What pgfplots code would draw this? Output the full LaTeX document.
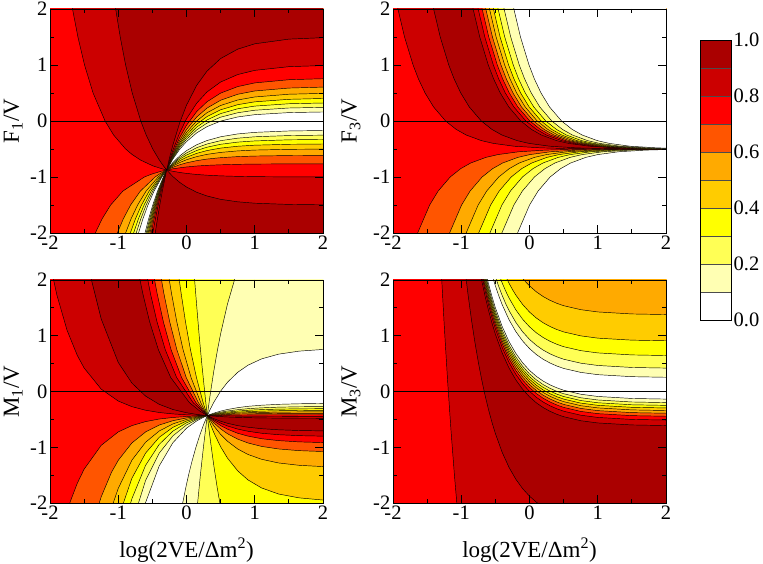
\documentclass[border=0pt]{standalone}
\usepackage{fontspec}
\setmainfont{Liberation Serif}
\usepackage{pgfplots}
\pgfplotsset{compat=1.18}
\definecolor{c0}{HTML}{FFFFFF}
\definecolor{c1}{HTML}{FFFFB3}
\definecolor{c2}{HTML}{FFFF55}
\definecolor{c3}{HTML}{FFFF00}
\definecolor{c4}{HTML}{FFCC00}
\definecolor{c5}{HTML}{FFAA00}
\definecolor{c6}{HTML}{FF5500}
\definecolor{c7}{HTML}{FF0000}
\definecolor{c8}{HTML}{CC0000}
\definecolor{c9}{HTML}{AA0000}
\newcommand\ticksize{\fontsize{20.5}{24}\selectfont}
\newcommand\labsize{\fontsize{23}{27}\selectfont}
\pgfplotsset{
  cf/.style={fill=#1, draw=black, line width=0.45pt, line join=round},
  bg/.style={fill=#1, draw=none},
  panel/.style={
    anchor=south west, scale only axis, width=273pt, height=224pt,
    xmin=-2, xmax=2, ymin=-2, ymax=2,
    xtick={-2,-1,0,1,2}, ytick={-2,-1,0,1,2},
    xticklabels={-2,-1,0,1,2}, yticklabels={-2,-1,0,1,2},
    minor xtick={-1.5,-0.5,0.5,1.5}, minor ytick={-1.5,-0.5,0.5,1.5},
    tick align=inside, major tick length=8pt, minor tick length=4pt,
    every tick/.style={black, line width=0.9pt},
    axis line style={line width=0.9pt},
    tick label style={font=\ticksize},
    xticklabel style={inner sep=2.5pt},
    yticklabel style={inner sep=2.5pt},
    axis on top, no markers, clip=true,
    every axis x label/.style={at={(axis description cs:0.5,-0.21)}, anchor=center, font=\labsize},
  },
  ylab/.style={every axis y label/.style={at={(axis description cs:#1,0.5)}, rotate=90, anchor=center, inner sep=0pt, font=\labsize}},
}
\begin{document}
\begin{tikzpicture}
\useasboundingbox (0,0) rectangle (763pt,564pt);
% ================= TOP LEFT: F1/V =================
\begin{axis}[panel, at={(50pt,331pt)}, ylab=-0.135, ylabel={F\textsubscript{1}/V}]
\addplot[bg=c0] coordinates {(-2.6,-2.6) (2.6,-2.6) (2.6,2.6) (-2.6,2.6)} -- cycle;
% 0.1
\addplot[cf=c1] coordinates {(-0.29,-0.875) (-0.361,-1) (-0.475,-1.25) (-0.565,-1.5) (-0.639,-1.75) (-0.703,-2) (-0.808,-2.5) (-2.6,-2.6) (-2.6,2.6) (2.6,2.6) (2.6,0.166) (2.5,0.165) (2,0.161) (1.5,0.150) (1,0.113) (0.75,0.072) (0.5,-0.002) (0.3,-0.101) (0.15,-0.212) (0,-0.368) (-0.1,-0.506) (-0.2,-0.680)} -- cycle;
\addplot[cf=c1] coordinates {(-0.29,-0.875) (-0.339,-1) (-0.424,-1.25) (-0.494,-1.5) (-0.555,-1.75) (-0.608,-2) (-0.698,-2.5) (2.6,-2.6) (2.6,-0.168) (2.5,-0.168) (2,-0.170) (1.5,-0.178) (1,-0.203) (0.75,-0.231) (0.5,-0.282) (0.3,-0.349) (0.15,-0.424) (0,-0.530) (-0.1,-0.624) (-0.2,-0.742)} -- cycle;
% 0.2
\addplot[cf=c2] coordinates {(-0.29,-0.875) (-0.369,-1) (-0.494,-1.25) (-0.591,-1.5) (-0.670,-1.75) (-0.737,-2) (-0.846,-2.5) (-2.6,-2.6) (-2.6,2.6) (2.6,2.6) (2.6,0.249) (2.5,0.248) (2,0.244) (1.5,0.232) (1,0.192) (0.75,0.147) (0.5,0.068) (0.3,-0.039) (0.15,-0.159) (0,-0.327) (-0.1,-0.476) (-0.2,-0.665)} -- cycle;
\addplot[cf=c2] coordinates {(-0.29,-0.875) (-0.336,-1) (-0.415,-1.25) (-0.482,-1.5) (-0.540,-1.75) (-0.591,-2) (-0.678,-2.5) (2.6,-2.6) (2.6,-0.251) (2.5,-0.251) (2,-0.253) (1.5,-0.260) (1,-0.282) (0.75,-0.307) (0.5,-0.351) (0.3,-0.411) (0.15,-0.477) (0,-0.571) (-0.1,-0.654) (-0.2,-0.758)} -- cycle;
% 0.3
\addplot[cf=c3] coordinates {(-0.29,-0.875) (-0.379,-1) (-0.517,-1.25) (-0.621,-1.5) (-0.705,-1.75) (-0.775,-2) (-0.889,-2.5) (-2.6,-2.6) (-2.6,2.6) (2.6,2.6) (2.6,0.326) (2.5,0.325) (2,0.321) (1.5,0.308) (1,0.266) (0.75,0.218) (0.5,0.132) (0.3,0.018) (0.15,-0.109) (0,-0.289) (-0.1,-0.449) (-0.2,-0.650)} -- cycle;
\addplot[cf=c3] coordinates {(-0.29,-0.875) (-0.333,-1) (-0.408,-1.25) (-0.472,-1.5) (-0.528,-1.75) (-0.577,-2) (-0.661,-2.5) (2.6,-2.6) (2.6,-0.328) (2.5,-0.328) (2,-0.330) (1.5,-0.336) (1,-0.356) (0.75,-0.377) (0.5,-0.416) (0.3,-0.468) (0.15,-0.526) (0,-0.608) (-0.1,-0.681) (-0.2,-0.773)} -- cycle;
% 0.4
\addplot[cf=c4] coordinates {(-0.29,-0.875) (-0.355,-0.95) (-0.393,-1) (-0.546,-1.25) (-0.659,-1.5) (-0.749,-1.75) (-0.823,-2) (-0.941,-2.5) (-2.6,-2.6) (-2.6,2.6) (2.6,2.6) (2.6,0.407) (2.5,0.406) (2,0.402) (1.5,0.387) (1,0.342) (0.75,0.291) (0.5,0.200) (0.3,0.078) (0.15,-0.058) (0,-0.250) (-0.1,-0.420) (-0.2,-0.635)} -- cycle;
\addplot[cf=c4] coordinates {(-0.29,-0.875) (-0.330,-1) (-0.401,-1.25) (-0.462,-1.5) (-0.516,-1.75) (-0.563,-2) (-0.645,-2.5) (2.6,-2.6) (2.6,-0.409) (2.5,-0.409) (2,-0.411) (1.5,-0.416) (1,-0.432) (0.75,-0.451) (0.5,-0.484) (0.3,-0.528) (0.15,-0.578) (0,-0.648) (-0.1,-0.710) (-0.2,-0.788)} -- cycle;
% 0.5
\addplot[cf=c5] coordinates {(-0.29,-0.875) (-0.318,-0.9) (-0.369,-0.95) (-0.415,-1) (-0.591,-1.25) (-0.716,-1.5) (-0.813,-1.75) (-0.892,-2) (-1.017,-2.5) (-2.6,-2.6) (-2.6,2.6) (2.6,2.6) (2.6,0.499) (2.5,0.498) (2,0.493) (1.5,0.478) (1,0.429) (0.75,0.375) (0.5,0.277) (0.3,0.147) (0.15,0.001) (0,-0.205) (-0.1,-0.388) (-0.2,-0.618)} -- cycle;
\addplot[cf=c5] coordinates {(-0.29,-0.875) (-0.328,-1) (-0.395,-1.25) (-0.453,-1.5) (-0.504,-1.75) (-0.550,-2) (-0.629,-2.5) (2.6,-2.6) (2.6,-0.501) (2.5,-0.501) (2,-0.502) (1.5,-0.506) (1,-0.519) (0.75,-0.534) (0.5,-0.561) (0.3,-0.596) (0.15,-0.636) (0,-0.692) (-0.1,-0.742) (-0.2,-0.805)} -- cycle;
% 0.6
\addplot[cf=c6] coordinates {(-0.29,-0.875) (-0.330,-0.9) (-0.399,-0.95) (-0.459,-1) (-0.675,-1.25) (-0.819,-1.5) (-0.927,-1.75) (-1.013,-2) (-1.147,-2.5) (-2.6,-2.6) (-2.6,2.6) (2.6,2.6) (2.6,0.611) (2.5,0.610) (2,0.605) (1.5,0.588) (1,0.536) (0.75,0.477) (0.5,0.371) (0.3,0.230) (0.15,0.072) (0,-0.151) (-0.1,-0.348) (-0.2,-0.597)} -- cycle;
\addplot[cf=c6] coordinates {(-0.29,-0.875) (-0.325,-1) (-0.388,-1.25) (-0.442,-1.5) (-0.491,-1.75) (-0.535,-2) (-0.611,-2.5) (2.6,-2.6) (2.6,-0.613) (2.5,-0.613) (2,-0.614) (1.5,-0.617) (1,-0.626) (0.75,-0.636) (0.5,-0.655) (0.3,-0.680) (0.15,-0.708) (0,-0.747) (-0.1,-0.782) (-0.2,-0.826)} -- cycle;
% 0.7
\addplot[cf=c7] coordinates {(-0.29,-0.875) (-0.378,-0.9) (-0.514,-0.95) (-0.617,-1) (-0.931,-1.25) (-1.111,-1.5) (-1.238,-1.75) (-1.336,-2) (-1.484,-2.5) (-2.6,-2.6) (-2.6,2.6) (2.6,2.6) (2.6,0.762) (2.5,0.761) (2,0.755) (1.5,0.737) (1,0.680) (0.75,0.614) (0.5,0.498) (0.3,0.343) (0.15,0.169) (0,-0.077) (-0.1,-0.294) (-0.2,-0.569)} -- cycle;
\addplot[cf=c7] coordinates {(-0.29,-0.875) (-0.322,-1) (-0.380,-1.25) (-0.430,-1.5) (-0.476,-1.75) (-0.517,-2) (-0.589,-2.5) (2.6,-2.6) (2.6,-0.764) (2.5,-0.764) (2,-0.764) (1.5,-0.766) (1,-0.769) (0.75,-0.774) (0.5,-0.782) (0.3,-0.792) (0.15,-0.804) (0,-0.821) (-0.1,-0.836) (-0.2,-0.854)} -- cycle;
% 0.8
\addplot[cf=c8] coordinates {(-0.29,-0.875) (-0.369,-0.85) (-0.494,-0.8) (-0.670,-0.7) (-0.795,-0.6) (-0.892,-0.5) (-1.068,-0.25) (-1.193,0) (-1.369,0.5) (-1.494,1) (-1.591,1.5) (-1.670,2) (-1.737,2.5) (2.6,2.6) (2.6,0.998) (2.5,0.997) (2,0.990) (1.5,0.970) (1,0.904) (0.75,0.829) (0.5,0.696) (0.3,0.518) (0.15,0.319) (0,0.038) (-0.1,-0.211) (-0.2,-0.524) (-0.25,-0.710)} -- cycle;
\addplot[cf=c8] coordinates {(-0.29,-0.875) (-0.318,-1) (-0.369,-1.25) (-0.415,-1.5) (-0.456,-1.75) (-0.494,-2) (-0.561,-2.5) (2.6,-2.6) (2.6,-1.0) (2.5,-1.0) (2,-0.999) (1.5,-0.998) (1,-0.994) (0.75,-0.989) (0.5,-0.980) (0.3,-0.968) (0.15,-0.955) (0,-0.936) (-0.1,-0.919) (-0.2,-0.898)} -- cycle;
% 0.9
\addplot[cf=c9] coordinates {(-0.29,-0.875) (-0.339,-0.8) (-0.397,-0.7) (-0.494,-0.5) (-0.591,-0.25) (-0.670,0) (-0.795,0.5) (-0.892,1) (-0.971,1.5) (-1.038,2) (-1.096,2.5) (2.6,2.6) (2.6,1.497) (2.5,1.496) (2,1.488) (1.5,1.462) (1,1.378) (0.75,1.283) (0.5,1.115) (0.3,0.890) (0.15,0.638) (0,0.282) (-0.1,-0.034) (-0.2,-0.431) (-0.25,-0.666)} -- cycle;
\addplot[cf=c9] coordinates {(-0.29,-0.875) (-0.312,-1) (-0.354,-1.25) (-0.392,-1.5) (-0.426,-1.75) (-0.458,-2) (-0.516,-2.5) (2.6,-2.6) (2.6,-1.5) (2.5,-1.499) (2,-1.497) (1.5,-1.490) (1,-1.468) (0.75,-1.443) (0.5,-1.399) (0.3,-1.339) (0.15,-1.273) (0,-1.179) (-0.1,-1.096) (-0.2,-0.992)} -- cycle;
\addplot[black, line width=0.9pt] coordinates {(-2,0) (2,0)};
\end{axis}
% ================= TOP RIGHT: F3/V =================
\begin{axis}[panel, at={(393pt,331pt)}, ylab=-0.154, ylabel={F\textsubscript{3}/V}]
\addplot[bg=c0] coordinates {(-2.6,-2.6) (2.6,-2.6) (2.6,2.6) (-2.6,2.6)} -- cycle;
\addplot[cf=c1] coordinates {(-2.6,2.6) (-2.6,-2.6) (-0.300,-2.5) (-0.175,-2) (0.001,-1.5) (0.126,-1.25) (0.302,-1) (0.457,-0.85) (0.603,-0.75) (0.825,-0.65) (1.001,-0.6) (1.302,-0.55) (1.700,-0.52) (2.001,-0.51) (2.302,-0.505) (2.7,-0.502) (2.7,2.6)} -- cycle;
\addplot[cf=c2] coordinates {(-2.6,2.6) (-2.6,-2.6) (-0.530,-2.5) (-0.405,-2) (-0.229,-1.5) (-0.104,-1.25) (0.072,-1) (0.227,-0.85) (0.373,-0.75) (0.595,-0.65) (0.771,-0.6) (1.072,-0.55) (1.470,-0.52) (1.771,-0.51) (2.072,-0.505) (2.470,-0.502) (2.7,-0.501) (2.7,2.6)} -- cycle;
\addplot[cf=c3] coordinates {(-2.6,2.6) (-2.6,-2.6) (-0.705,-2.5) (-0.580,-2) (-0.404,-1.5) (-0.279,-1.25) (-0.103,-1) (0.052,-0.85) (0.198,-0.75) (0.420,-0.65) (0.596,-0.6) (0.897,-0.55) (1.295,-0.52) (1.596,-0.51) (1.897,-0.505) (2.295,-0.502) (2.7,-0.501) (2.7,2.6)} -- cycle;
\addplot[cf=c4] coordinates {(-2.6,2.6) (-2.6,-2.6) (-0.870,-2.5) (-0.745,-2) (-0.569,-1.5) (-0.444,-1.25) (-0.268,-1) (-0.113,-0.85) (0.033,-0.75) (0.255,-0.65) (0.431,-0.6) (0.732,-0.55) (1.130,-0.52) (1.431,-0.51) (1.732,-0.505) (2.130,-0.502) (2.7,-0.5) (2.7,2.6)} -- cycle;
\addplot[cf=c5] coordinates {(-2.6,2.6) (-2.6,-2.6) (-1.053,-2.5) (-0.928,-2) (-0.752,-1.5) (-0.627,-1.25) (-0.451,-1) (-0.296,-0.85) (-0.150,-0.75) (0.072,-0.65) (0.248,-0.6) (0.549,-0.55) (0.947,-0.52) (1.248,-0.51) (1.549,-0.505) (1.947,-0.502) (2.7,-0.5) (2.7,2.6)} -- cycle;
\addplot[cf=c6] coordinates {(-2.6,2.6) (-2.6,-2.6) (-1.296,-2.5) (-1.171,-2) (-0.995,-1.5) (-0.870,-1.25) (-0.694,-1) (-0.539,-0.85) (-0.393,-0.75) (-0.171,-0.65) (0.005,-0.6) (0.306,-0.55) (0.704,-0.52) (1.005,-0.51) (1.306,-0.505) (1.704,-0.502) (2.7,-0.5) (2.7,2.6)} -- cycle;
\addplot[cf=c7] coordinates {(-2.6,2.6) (-2.6,-2.6) (-1.764,-2.5) (-1.639,-2) (-1.463,-1.5) (-1.338,-1.25) (-1.162,-1) (-1.007,-0.85) (-0.861,-0.75) (-0.639,-0.65) (-0.463,-0.6) (-0.162,-0.55) (0.236,-0.52) (0.537,-0.51) (0.838,-0.505) (1.236,-0.502) (2.7,-0.5) (2.7,2.6)} -- cycle;
\addplot[cf=c8] coordinates {(-2.007,2.5) (-1.928,2) (-1.831,1.5) (-1.706,1) (-1.627,0.75) (-1.530,0.5) (-1.405,0.25) (-1.229,0) (-1.074,-0.15) (-0.928,-0.25) (-0.706,-0.35) (-0.530,-0.4) (-0.229,-0.45) (0.169,-0.48) (0.470,-0.49) (0.771,-0.495) (1.169,-0.498) (2.7,-0.5) (2.7,2.6)} -- cycle;
\addplot[cf=c9] coordinates {(-1.484,2.5) (-1.405,2) (-1.308,1.5) (-1.183,1) (-1.104,0.75) (-1.007,0.5) (-0.882,0.25) (-0.706,0) (-0.551,-0.15) (-0.405,-0.25) (-0.183,-0.35) (-0.007,-0.4) (0.294,-0.45) (0.692,-0.48) (0.993,-0.49) (1.294,-0.495) (1.692,-0.498) (2.7,-0.5) (2.7,2.6)} -- cycle;
\addplot[cf=c8] coordinates {(-0.905,2.5) (-0.826,2) (-0.729,1.5) (-0.604,1) (-0.525,0.75) (-0.428,0.5) (-0.303,0.25) (-0.127,0) (0.028,-0.15) (0.174,-0.25) (0.396,-0.35) (0.572,-0.4) (0.873,-0.45) (1.271,-0.48) (1.572,-0.49) (1.873,-0.495) (2.271,-0.498) (2.7,-0.5) (2.7,2.6)} -- cycle;
\addplot[cf=c7] coordinates {(-0.831,2.5) (-0.752,2) (-0.655,1.5) (-0.530,1) (-0.451,0.75) (-0.354,0.5) (-0.229,0.25) (-0.053,0) (0.102,-0.15) (0.248,-0.25) (0.470,-0.35) (0.646,-0.4) (0.947,-0.45) (1.345,-0.48) (1.646,-0.49) (1.947,-0.495) (2.345,-0.498) (2.7,-0.5) (2.7,2.6)} -- cycle;
\addplot[cf=c6] coordinates {(-0.773,2.5) (-0.694,2) (-0.597,1.5) (-0.472,1) (-0.393,0.75) (-0.296,0.5) (-0.171,0.25) (0.005,0) (0.160,-0.15) (0.306,-0.25) (0.528,-0.35) (0.704,-0.4) (1.005,-0.45) (1.403,-0.48) (1.704,-0.49) (2.005,-0.495) (2.403,-0.498) (2.7,-0.5) (2.7,2.6)} -- cycle;
\addplot[cf=c5] coordinates {(-0.719,2.5) (-0.640,2) (-0.543,1.5) (-0.418,1) (-0.339,0.75) (-0.242,0.5) (-0.117,0.25) (0.059,0) (0.214,-0.15) (0.360,-0.25) (0.582,-0.35) (0.758,-0.4) (1.059,-0.45) (1.457,-0.48) (1.758,-0.49) (2.059,-0.495) (2.457,-0.498) (2.7,-0.5) (2.7,2.6)} -- cycle;
\addplot[cf=c4] coordinates {(-0.665,2.5) (-0.586,2) (-0.489,1.5) (-0.364,1) (-0.285,0.75) (-0.188,0.5) (-0.063,0.25) (0.113,0) (0.268,-0.15) (0.414,-0.25) (0.636,-0.35) (0.812,-0.4) (1.113,-0.45) (1.511,-0.48) (1.812,-0.49) (2.113,-0.495) (2.7,-0.5) (2.7,2.6)} -- cycle;
\addplot[cf=c3] coordinates {(-0.607,2.5) (-0.528,2) (-0.431,1.5) (-0.306,1) (-0.227,0.75) (-0.130,0.5) (-0.005,0.25) (0.171,0) (0.326,-0.15) (0.472,-0.25) (0.694,-0.35) (0.870,-0.4) (1.171,-0.45) (1.569,-0.48) (1.870,-0.49) (2.171,-0.495) (2.7,-0.5) (2.7,2.6)} -- cycle;
\addplot[cf=c2] coordinates {(-0.539,2.5) (-0.460,2) (-0.363,1.5) (-0.238,1) (-0.159,0.75) (-0.062,0.5) (0.063,0.25) (0.239,0) (0.394,-0.15) (0.540,-0.25) (0.762,-0.35) (0.938,-0.4) (1.239,-0.45) (1.637,-0.48) (1.938,-0.49) (2.239,-0.495) (2.7,-0.5) (2.7,2.6)} -- cycle;
\addplot[cf=c1] coordinates {(-0.451,2.5) (-0.372,2) (-0.275,1.5) (-0.150,1) (-0.071,0.75) (0.026,0.5) (0.151,0.25) (0.327,0) (0.482,-0.15) (0.628,-0.25) (0.850,-0.35) (1.026,-0.4) (1.327,-0.45) (1.725,-0.48) (2.026,-0.49) (2.327,-0.495) (2.7,-0.5) (2.7,2.6)} -- cycle;
\addplot[cf=c0] coordinates {(-0.308,2.5) (-0.229,2) (-0.132,1.5) (-0.007,1) (0.072,0.75) (0.169,0.5) (0.294,0.25) (0.470,0) (0.625,-0.15) (0.771,-0.25) (0.993,-0.35) (1.169,-0.4) (1.470,-0.45) (1.868,-0.48) (2.169,-0.49) (2.7,-0.5) (2.7,2.6)} -- cycle;
\addplot[black, line width=0.9pt] coordinates {(-2,0) (2,0)};
\end{axis}
% ================= BOTTOM LEFT: M1/V =================
\begin{axis}[panel, at={(50pt,61pt)}, height=223pt, ylab=-0.135, ylabel={M\textsubscript{1}/V}, xlabel={log(2VE/Δm\textsuperscript{2})}]
\addplot[bg=c0] coordinates {(-2.6,-2.6) (2.6,-2.6) (2.6,2.6) (-2.6,2.6)} -- cycle;
% 0.1
\addplot[cf=c1] coordinates {(0.305,-0.432) (0.2485,-0.6) (0.190,-0.8) (0.138,-1) (0.081,-1.25) (0.030,-1.5) (-0.015,-1.75) (-0.056,-2) (-0.128,-2.5) (2.6,-2.6) (2.6,-0.211) (2.5,-0.211) (2,-0.214) (1.65,-0.220) (1.35,-0.230) (1.1,-0.246) (0.9,-0.266) (0.75,-0.290) (0.6,-0.323) (0.5,-0.352) (0.4,-0.388) (0.35,-0.410)} -- cycle;
\addplot[cf=c1] coordinates {(0.305,-0.432) (0.35,-0.313) (0.4,-0.194) (0.5,0.006) (0.6,0.165) (0.75,0.344) (0.9,0.471) (1.1,0.585) (1.35,0.670) (1.65,0.724) (2,0.754) (2.5,0.771) (2.6,2.6) (-2.6,2.6) (-2.6,-2.6) (-0.7,-2.457) (-0.6,-1.994) (-0.4,-1.336) (-0.2,-0.920) (0,-0.658) (0.15,-0.527) (0.25,-0.462)} -- cycle;
% 0.2
\addplot[cf=c2] coordinates {(0.305,-0.432) (0.287,-0.6) (0.248,-1) (0.203,-1.5) (0.163,-2) (0.126,-2.5) (2.6,-2.6) (2.6,-0.267) (2.5,-0.267) (2,-0.270) (1.65,-0.274) (1.35,-0.281) (1.1,-0.293) (0.9,-0.308) (0.75,-0.326) (0.6,-0.350) (0.5,-0.372) (0.4,-0.399) (0.35,-0.416)} -- cycle;
\addplot[cf=c2] coordinates {(0.305,-0.432) (0.32,-0.295) (0.335,-0.162) (0.35,-0.033) (0.4,0.365) (0.45,0.719) (0.5,1.035) (0.6,1.567) (0.703,2) (0.8,2.326) (-2.6,2.6) (-2.6,-2.6) (-0.8,-2.378) (-0.6,-1.598) (-0.4,-1.107) (-0.2,-0.797) (0,-0.601) (0.15,-0.503) (0.25,-0.454)} -- cycle;
% 0.3
\addplot[cf=c3] coordinates {(0.305,-0.432) (0.325,-0.637) (0.35,-0.880) (0.4,-1.328) (0.45,-1.726) (0.5,-2.081) (0.55,-2.397) (2.6,-2.6) (2.6,-0.306) (2.5,-0.306) (2,-0.308) (1.65,-0.311) (1.35,-0.316) (1.1,-0.325) (0.9,-0.337) (0.75,-0.351) (0.6,-0.369) (0.5,-0.386) (0.4,-0.407) (0.35,-0.420)} -- cycle;
\addplot[cf=c3] coordinates {(0.305,-0.432) (0.283,-0.2) (0.224,0.5) (0.186,1) (0.152,1.5) (0.119,2) (0.089,2.5) (-2.6,2.6) (-2.6,-2.6) (-0.9,-2.342) (-0.8,-1.924) (-0.6,-1.326) (-0.4,-0.949) (-0.2,-0.712) (0,-0.561) (0.15,-0.487) (0.25,-0.449)} -- cycle;
% 0.4
\addplot[cf=c4] coordinates {(0.305,-0.432) (0.35,-0.584) (0.4,-0.736) (0.5,-0.991) (0.6,-1.194) (0.75,-1.423) (0.9,-1.585) (1.1,-1.730) (1.35,-1.839) (1.65,-1.908) (2,-1.947) (2.5,-1.968) (2.6,-1.97) (2.6,-0.337) (2.5,-0.337) (2,-0.338) (1.65,-0.341) (1.35,-0.345) (1.1,-0.352) (0.9,-0.361) (0.75,-0.371) (0.6,-0.385) (0.5,-0.397) (0.4,-0.413) (0.35,-0.423)} -- cycle;
\addplot[cf=c4] coordinates {(0.305,-0.432) (0.244,-0.2) (0.146,0.25) (0.058,0.75) (-0.015,1.25) (-0.077,1.75) (-0.106,2) (-0.157,2.5) (-2.6,2.6) (-2.6,-2.6) (-1.0,-2.269) (-0.8,-1.557) (-0.6,-1.106) (-0.4,-0.822) (-0.2,-0.643) (0,-0.530) (0.15,-0.473) (0.25,-0.445)} -- cycle;
% 0.5
\addplot[cf=c5] coordinates {(0.305,-0.432) (0.35,-0.524) (0.4,-0.616) (0.5,-0.770) (0.6,-0.892) (0.75,-1.031) (0.9,-1.129) (1.1,-1.216) (1.35,-1.282) (1.65,-1.324) (2,-1.347) (2.5,-1.360) (2.6,-1.36) (2.6,-0.364) (2.5,-0.364) (2,-0.365) (1.65,-0.367) (1.35,-0.370) (1.1,-0.375) (0.9,-0.381) (0.75,-0.388) (0.6,-0.398) (0.5,-0.407) (0.4,-0.419) (0.35,-0.425)} -- cycle;
\addplot[cf=c5] coordinates {(0.305,-0.432) (0.209,-0.2) (0.067,0.25) (-0.050,0.75) (-0.142,1.25) (-0.218,1.75) (-0.252,2) (-0.312,2.5) (-2.6,2.6) (-2.6,-2.6) (-1.25,-2.808) (-1.1,-2.094) (-1.0,-1.738) (-0.8,-1.232) (-0.6,-0.911) (-0.4,-0.709) (-0.2,-0.582) (0,-0.501) (0.15,-0.461) (0.25,-0.441)} -- cycle;
% 0.6
\addplot[cf=c6] coordinates {(0.305,-0.432) (0.35,-0.497) (0.4,-0.561) (0.5,-0.670) (0.6,-0.757) (0.75,-0.854) (0.9,-0.923) (1.1,-0.985) (1.35,-1.031) (1.65,-1.061) (2,-1.077) (2.5,-1.086) (2.6,-1.09) (2.6,-0.390) (2.5,-0.390) (2,-0.391) (1.65,-0.392) (1.35,-0.394) (1.1,-0.397) (0.9,-0.401) (0.75,-0.405) (0.6,-0.411) (0.5,-0.417) (0.4,-0.424) (0.35,-0.428)} -- cycle;
\addplot[cf=c6] coordinates {(0.305,-0.432) (0.174,-0.2) (-0.004,0.25) (-0.141,0.75) (-0.246,1.25) (-0.330,1.75) (-0.366,2) (-0.432,2.5) (-2.6,2.6) (-2.6,-2.6) (-1.35,-2.279) (-1.25,-1.890) (-1.1,-1.452) (-1.0,-1.234) (-0.8,-0.923) (-0.6,-0.726) (-0.4,-0.602) (-0.2,-0.524) (0,-0.475) (0.15,-0.450) (0.25,-0.438)} -- cycle;
% 0.7
\addplot[cf=c7] coordinates {(0.305,-0.432) (0.35,-0.481) (0.4,-0.529) (0.5,-0.611) (0.6,-0.675) (0.75,-0.749) (0.9,-0.800) (1.1,-0.847) (1.35,-0.881) (1.65,-0.904) (2,-0.916) (2.5,-0.923) (2.6,-0.924) (2.6,-0.417) (2.5,-0.417) (2,-0.417) (1.35,-0.418) (0.9,-0.421) (0.6,-0.4245) (0.5,-0.427) (0.4,-0.429) (0.35,-0.431)} -- cycle;
\addplot[cf=c7] coordinates {(0.305,-0.432) (0.138,-0.2) (-0.072,0.25) (-0.226,0.75) (-0.339,1.25) (-0.429,1.75) (-0.468,2) (-0.536,2.5) (-2.6,2.6) (-2.6,-2.6) (-1.85,-2.603) (-1.75,-2.153) (-1.7,-1.965) (-1.6,-1.646) (-1.5,-1.393) (-1.25,-0.966) (-1.0,-0.725) (-0.8,-0.612) (-0.6,-0.540) (-0.4,-0.494) (-0.2,-0.466) (0,-0.448) (0.15,-0.439) (0.25,-0.434)} -- cycle;
% 0.8
\addplot[cf=c8] coordinates {(0.305,-0.432) (0.35,-0.469) (0.4,-0.506) (0.5,-0.568) (0.6,-0.618) (0.75,-0.674) (0.9,-0.713) (1.1,-0.749) (1.35,-0.775) (1.65,-0.792) (2,-0.801) (2.5,-0.807) (2.6,-0.808) (2.6,-0.4455) (2.5,-0.4455) (2,-0.4453) (1.35,-0.4444) (0.9,-0.4421) (0.6,-0.4387) (0.5,-0.437) (0.4,-0.435) (0.35,-0.433)} -- cycle;
\addplot[cf=c8] coordinates {(0.305,-0.432) (0.097,-0.2) (-0.144,0.25) (-0.311,0.75) (-0.432,1.25) (-0.527,1.75) (-0.567,2) (-0.638,2.5) (-2.1,3.01) (-2.0,2.299) (-1.9,1.735) (-1.75,1.098) (-1.6,0.647) (-1.5,0.422) (-1.25,0.043) (-1.0,-0.171) (-0.8,-0.272) (-0.6,-0.336) (-0.4,-0.377) (-0.2,-0.402) (0,-0.418) (0.15,-0.426) (0.25,-0.430)} -- cycle;
% 0.9
\addplot[cf=c9] coordinates {(0.305,-0.432) (0.35,-0.460) (0.4,-0.487) (0.5,-0.533) (0.6,-0.570) (0.75,-0.612) (0.9,-0.641) (1.1,-0.667) (1.35,-0.687) (1.65,-0.700) (2,-0.707) (2.5,-0.710) (2.6,-0.71) (2.6,-0.4814) (2.5,-0.4814) (2,-0.4807) (1.65,-0.4795) (1.35,-0.4772) (1.1,-0.474) (0.9,-0.469) (0.75,-0.464) (0.6,-0.457) (0.5,-0.450) (0.4,-0.442) (0.35,-0.437)} -- cycle;
\addplot[cf=c9] coordinates {(0.305,-0.432) (0.194,-0.35) (0.043,-0.2) (-0.231,0.25) (-0.412,0.75) (-0.540,1.25) (-0.639,1.75) (-0.681,2) (-0.754,2.5) (-1.5,2.690) (-1.4,2.038) (-1.25,1.302) (-1.0,0.521) (-0.8,0.151) (-0.6,-0.082) (-0.4,-0.230) (-0.2,-0.323) (0,-0.381) (0.15,-0.411) (0.25,-0.425)} -- cycle;
\addplot[black, line width=0.9pt] coordinates {(-2,0) (2,0)};
\end{axis}
% ================= BOTTOM RIGHT: M3/V =================
\begin{axis}[panel, at={(393pt,61pt)}, height=223pt, ylab=-0.154, ylabel={M\textsubscript{3}/V}, xlabel={log(2VE/Δm\textsuperscript{2})}]
\addplot[bg=c7] coordinates {(-2.6,-2.6) (2.6,-2.6) (2.6,2.6) (-2.6,2.6)} -- cycle;
\addplot[cf=c8] coordinates {(-1.35,3.59) (-1.3,2.32) (-1.25,1.196) (-1.2,0.19) (-1.15,-0.705) (-1.1,-1.503) (-1.05,-2.215) (-1.0,-2.85) (2.7,-2.85) (2.7,3.6)} -- cycle;
\addplot[cf=c9] coordinates {(-1.0,2.802) (-0.95,2.237) (-0.9,1.732) (-0.85,1.283) (-0.8,0.883) (-0.75,0.526) (-0.7,0.208) (-0.65,-0.075) (-0.6,-0.328) (-0.55,-0.553) (-0.5,-0.754) (-0.4,-1.092) (-0.3,-1.361) (-0.2,-1.574) (-0.1,-1.743) (0,-1.878) (0.1,-1.985) (0.2,-2.070) (0.3,-2.137) (2.7,-2.397) (2.7,2.9)} -- cycle;
\addplot[cf=c8] coordinates {(-0.75,2.308) (-0.7,1.990) (-0.65,1.707) (-0.6,1.454) (-0.55,1.229) (-0.5,1.028) (-0.4,0.690) (-0.3,0.421) (-0.2,0.208) (-0.1,0.039) (0,-0.096) (0.1,-0.203) (0.2,-0.288) (0.3,-0.355) (0.4,-0.409) (0.5,-0.452) (0.75,-0.524) (1,-0.564) (1.5,-0.600) (2,-0.611) (2.7,-0.615) (2.7,2.6)} -- cycle;
\addplot[cf=c7] coordinates {(-0.75,2.407) (-0.7,2.089) (-0.65,1.806) (-0.6,1.553) (-0.55,1.328) (-0.5,1.127) (-0.4,0.789) (-0.3,0.520) (-0.2,0.307) (-0.1,0.138) (0,0.003) (0.1,-0.104) (0.2,-0.189) (0.3,-0.256) (0.4,-0.310) (0.5,-0.353) (0.75,-0.425) (1,-0.465) (1.5,-0.501) (2,-0.512) (2.7,-0.516) (2.7,2.6)} -- cycle;
\addplot[cf=c6] coordinates {(-0.75,2.475) (-0.7,2.157) (-0.65,1.874) (-0.6,1.621) (-0.55,1.396) (-0.5,1.195) (-0.4,0.857) (-0.3,0.588) (-0.2,0.375) (-0.1,0.206) (0,0.071) (0.1,-0.036) (0.2,-0.121) (0.3,-0.188) (0.4,-0.242) (0.5,-0.285) (0.75,-0.357) (1,-0.397) (1.5,-0.433) (2,-0.444) (2.7,-0.448) (2.7,2.6)} -- cycle;
\addplot[cf=c5] coordinates {(-0.75,2.529) (-0.7,2.211) (-0.65,1.928) (-0.6,1.675) (-0.55,1.450) (-0.5,1.249) (-0.4,0.911) (-0.3,0.642) (-0.2,0.429) (-0.1,0.260) (0,0.125) (0.1,0.018) (0.2,-0.067) (0.3,-0.134) (0.4,-0.188) (0.5,-0.231) (0.75,-0.303) (1,-0.343) (1.5,-0.379) (2,-0.390) (2.7,-0.394) (2.7,2.6)} -- cycle;
\addplot[cf=c4] coordinates {(-0.75,2.578) (-0.7,2.260) (-0.65,1.977) (-0.6,1.724) (-0.55,1.499) (-0.5,1.298) (-0.4,0.960) (-0.3,0.691) (-0.2,0.478) (-0.1,0.309) (0,0.174) (0.1,0.067) (0.2,-0.018) (0.3,-0.085) (0.4,-0.139) (0.5,-0.182) (0.75,-0.254) (1,-0.294) (1.5,-0.330) (2,-0.341) (2.7,-0.345) (2.7,2.6)} -- cycle;
\addplot[cf=c3] coordinates {(-0.7,2.306) (-0.65,2.023) (-0.6,1.770) (-0.55,1.545) (-0.5,1.344) (-0.4,1.006) (-0.3,0.737) (-0.2,0.524) (-0.1,0.355) (0,0.220) (0.1,0.113) (0.2,0.028) (0.3,-0.039) (0.4,-0.093) (0.5,-0.136) (0.75,-0.208) (1,-0.248) (1.5,-0.284) (2,-0.295) (2.7,-0.299) (2.7,2.6)} -- cycle;
\addplot[cf=c2] coordinates {(-0.7,2.352) (-0.65,2.069) (-0.6,1.816) (-0.55,1.591) (-0.5,1.390) (-0.4,1.052) (-0.3,0.783) (-0.2,0.570) (-0.1,0.401) (0,0.266) (0.1,0.159) (0.2,0.074) (0.3,0.007) (0.4,-0.047) (0.5,-0.090) (0.75,-0.162) (1,-0.202) (1.5,-0.238) (2,-0.249) (2.7,-0.253) (2.7,2.6)} -- cycle;
\addplot[cf=c1] coordinates {(-0.7,2.402) (-0.65,2.119) (-0.6,1.866) (-0.55,1.641) (-0.5,1.440) (-0.4,1.102) (-0.3,0.833) (-0.2,0.620) (-0.1,0.451) (0,0.316) (0.1,0.209) (0.2,0.124) (0.3,0.057) (0.4,0.003) (0.5,-0.040) (0.75,-0.112) (1,-0.152) (1.5,-0.188) (2,-0.199) (2.7,-0.203) (2.7,2.6)} -- cycle;
\addplot[cf=c0] coordinates {(-0.7,2.465) (-0.65,2.182) (-0.6,1.929) (-0.55,1.704) (-0.5,1.503) (-0.4,1.165) (-0.3,0.896) (-0.2,0.683) (-0.1,0.514) (0,0.379) (0.1,0.272) (0.2,0.187) (0.3,0.120) (0.4,0.066) (0.5,0.023) (0.75,-0.049) (1,-0.089) (1.5,-0.125) (2,-0.136) (2.7,-0.140) (2.7,2.6)} -- cycle;
\addplot[cf=c1] coordinates {(-0.55,2.095) (-0.5,1.894) (-0.45,1.716) (-0.4,1.556) (-0.3,1.287) (-0.2,1.074) (-0.1,0.905) (0,0.770) (0.1,0.663) (0.2,0.578) (0.3,0.511) (0.4,0.457) (0.5,0.414) (0.75,0.343) (1,0.302) (1.5,0.266) (2,0.255) (2.7,0.251) (2.7,2.6)} -- cycle;
\addplot[cf=c2] coordinates {(-0.5,2.059) (-0.45,1.881) (-0.4,1.721) (-0.35,1.579) (-0.3,1.452) (-0.2,1.239) (-0.1,1.070) (0,0.935) (0.1,0.828) (0.2,0.743) (0.3,0.676) (0.4,0.622) (0.5,0.579) (0.75,0.508) (1,0.467) (1.5,0.431) (2,0.420) (2.7,0.416) (2.7,2.6)} -- cycle;
\addplot[cf=c3] coordinates {(-0.45,2.106) (-0.4,1.946) (-0.35,1.804) (-0.3,1.677) (-0.2,1.464) (-0.1,1.295) (0,1.160) (0.1,1.053) (0.2,0.968) (0.3,0.901) (0.4,0.847) (0.5,0.804) (0.75,0.733) (1,0.692) (1.5,0.656) (2,0.645) (2.7,0.641) (2.7,2.6)} -- cycle;
\addplot[cf=c4] coordinates {(-0.35,2.069) (-0.3,1.942) (-0.25,1.830) (-0.2,1.729) (-0.1,1.560) (0,1.425) (0.1,1.318) (0.2,1.233) (0.3,1.166) (0.4,1.112) (0.5,1.069) (0.75,0.998) (1,0.957) (1.5,0.921) (2,0.910) (2.7,0.906) (2.7,2.6)} -- cycle;
\addplot[cf=c5] coordinates {(-0.1,2.030) (-0.05,1.958) (0,1.895) (0.1,1.788) (0.2,1.703) (0.3,1.636) (0.4,1.582) (0.5,1.539) (0.75,1.468) (1,1.427) (1.5,1.391) (2,1.380) (2.7,1.376) (2.7,2.6)} -- cycle;
\addplot[black, line width=0.9pt] coordinates {(-2,0) (2,0)};
\end{axis}
% ================= COLOUR BAR =================
\begin{axis}[at={(700pt,244pt)}, anchor=south west, scale only axis, width=31pt, height=280pt,
  xmin=0, xmax=1, ymin=0, ymax=1, xtick=\empty,
  ytick={0,0.2,0.4,0.6,0.8,1}, yticklabels={0.0,0.2,0.4,0.6,0.8,1.0},
  yticklabel pos=right, major tick length=0pt,
  yticklabel style={inner sep=2.5pt},
  tick label style={font=\ticksize}, axis line style={line width=0.8pt}, axis on top, no markers]
\addplot[fill=c0, draw=black!70, line width=0.4pt] coordinates {(0,0) (1,0) (1,0.1) (0,0.1)} -- cycle;
\addplot[fill=c1, draw=black!70, line width=0.4pt] coordinates {(0,0.1) (1,0.1) (1,0.2) (0,0.2)} -- cycle;
\addplot[fill=c2, draw=black!70, line width=0.4pt] coordinates {(0,0.2) (1,0.2) (1,0.3) (0,0.3)} -- cycle;
\addplot[fill=c3, draw=black!70, line width=0.4pt] coordinates {(0,0.3) (1,0.3) (1,0.4) (0,0.4)} -- cycle;
\addplot[fill=c4, draw=black!70, line width=0.4pt] coordinates {(0,0.4) (1,0.4) (1,0.5) (0,0.5)} -- cycle;
\addplot[fill=c5, draw=black!70, line width=0.4pt] coordinates {(0,0.5) (1,0.5) (1,0.6) (0,0.6)} -- cycle;
\addplot[fill=c6, draw=black!70, line width=0.4pt] coordinates {(0,0.6) (1,0.6) (1,0.7) (0,0.7)} -- cycle;
\addplot[fill=c7, draw=black!70, line width=0.4pt] coordinates {(0,0.7) (1,0.7) (1,0.8) (0,0.8)} -- cycle;
\addplot[fill=c8, draw=black!70, line width=0.4pt] coordinates {(0,0.8) (1,0.8) (1,0.9) (0,0.9)} -- cycle;
\addplot[fill=c9, draw=black!70, line width=0.4pt] coordinates {(0,0.9) (1,0.9) (1,1) (0,1)} -- cycle;
\end{axis}
\end{tikzpicture}
\end{document}
